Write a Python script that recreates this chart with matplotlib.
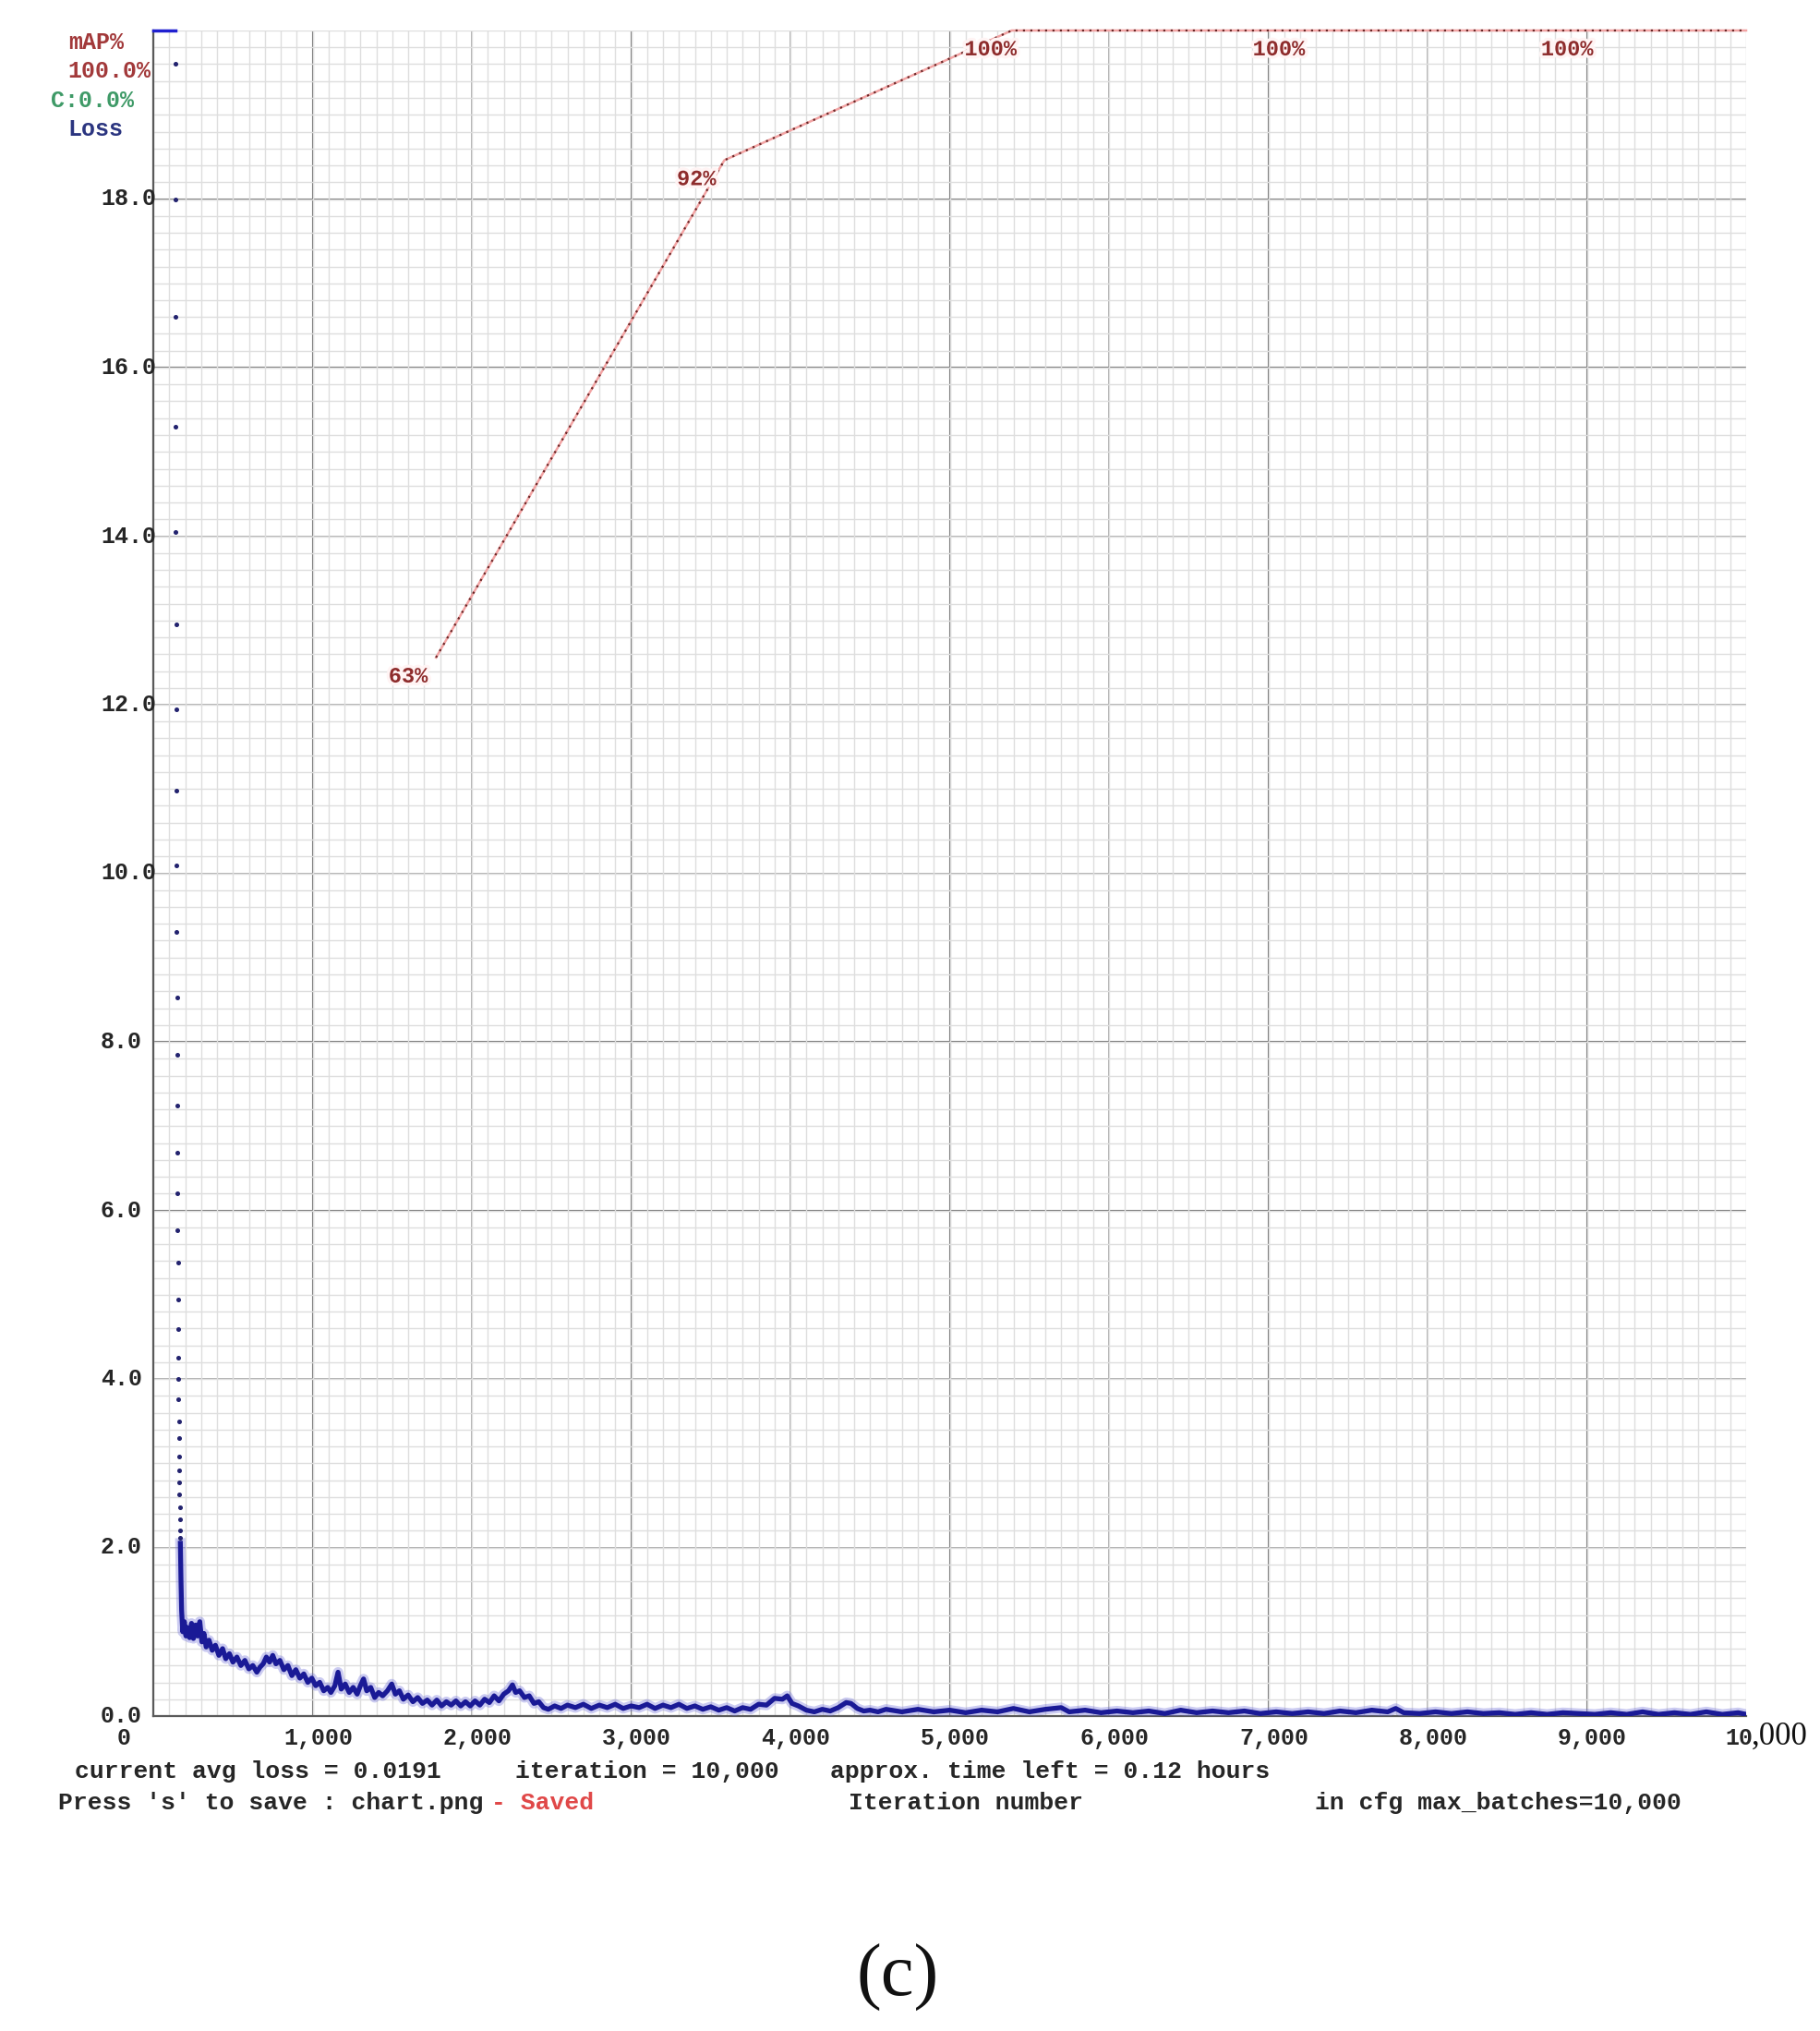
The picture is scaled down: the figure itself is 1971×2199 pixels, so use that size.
import matplotlib
matplotlib.use("Agg")
import matplotlib.pyplot as plt
import matplotlib.patheffects as pe
import matplotlib.transforms as mtrans
import numpy as np

W, H = 1971, 2199

# loss above the chart top at the start (drawn on the top edge)
top_iter = [0, 138]
top_loss = [20.0, 20.0]

# very fast drop right after start, shows up as single dots
dot_iter = [138, 139, 140, 141, 142, 143, 144, 145, 146, 147, 148,
            149, 150, 151, 152, 153, 154, 155, 156, 157, 158, 159,
            160, 161, 162, 163, 164, 165, 166, 167, 168, 169, 170]
dot_loss = [19.6, 18.0, 16.6, 15.3, 14.05, 12.95, 11.94, 10.98, 10.09, 9.30, 8.53,
            7.85, 7.24, 6.69, 6.20, 5.76, 5.38, 4.94, 4.59, 4.25, 4.0, 3.76,
            3.5, 3.30, 3.08, 2.91, 2.77, 2.63, 2.48, 2.33, 2.2, 2.12, 2.02]

# avg loss curve
loss_iter = [170, 174, 178, 185, 195, 205, 215, 228, 240, 252, 265, 278, 292, 305,
             318, 332, 350, 370, 390, 412, 435, 455, 478, 500, 525, 550, 575, 600,
             625, 650, 670, 690, 710, 730, 750, 770, 795, 820, 845, 870, 895, 920,
             945, 970, 995, 1020, 1045, 1070, 1095, 1115, 1140, 1160, 1180, 1205,
             1230, 1255, 1280, 1300, 1320, 1340, 1365, 1390, 1415, 1440, 1470, 1497,
             1520, 1545, 1570, 1600, 1630, 1660, 1690, 1720, 1750, 1780, 1810, 1840,
             1870, 1900, 1930, 1960, 1990, 2020, 2050, 2080, 2110, 2140, 2170, 2200,
             2230, 2255, 2275, 2300, 2330, 2360, 2390, 2420, 2450, 2480, 2520, 2560,
             2600, 2650, 2700, 2750, 2800, 2850, 2900, 2950, 3000, 3050, 3100, 3150,
             3200, 3250, 3300, 3350, 3400, 3450, 3500, 3550, 3600, 3650, 3700, 3750,
             3800, 3850, 3900, 3950, 3980, 4010, 4050, 4100, 4150, 4200, 4250, 4300,
             4350, 4380, 4420, 4460, 4500, 4550, 4600, 4700, 4800, 4900, 5000, 5100,
             5200, 5300, 5400, 5500, 5600, 5700, 5750, 5850, 5950, 6050, 6150, 6250,
             6350, 6450, 6550, 6650, 6750, 6850, 6950, 7050, 7150, 7250, 7350, 7450,
             7550, 7650, 7750, 7800, 7850, 7950, 8050, 8150, 8250, 8350, 8450, 8550,
             8650, 8750, 8850, 8950, 9050, 9150, 9250, 9350, 9450, 9550, 9650, 9750,
             9850, 9950, 10000]
loss_val = [2.05, 1.6, 1.25, 1.0, 1.12, 0.95, 1.05, 0.93, 1.1, 0.92, 1.08, 0.95, 1.12, 0.88,
            0.98, 0.82, 0.9, 0.78, 0.84, 0.72, 0.8, 0.68, 0.74, 0.64, 0.7, 0.6, 0.66, 0.56,
            0.6, 0.52, 0.58, 0.62, 0.7, 0.64, 0.72, 0.62, 0.66, 0.55, 0.6, 0.48, 0.55, 0.45,
            0.5, 0.4, 0.45, 0.36, 0.4, 0.3, 0.34, 0.28, 0.36, 0.52, 0.32, 0.38,
            0.28, 0.34, 0.26, 0.36, 0.44, 0.3, 0.34, 0.22, 0.28, 0.24, 0.3, 0.38,
            0.26, 0.3, 0.2, 0.25, 0.17, 0.22, 0.15, 0.19, 0.13, 0.19, 0.12, 0.17,
            0.13, 0.18, 0.12, 0.17, 0.12, 0.18, 0.13, 0.2, 0.16, 0.24, 0.18, 0.26,
            0.3, 0.37, 0.28, 0.3, 0.22, 0.24, 0.15, 0.17, 0.1, 0.08, 0.12, 0.09,
            0.13, 0.1, 0.14, 0.09, 0.13, 0.1, 0.14, 0.09, 0.12, 0.1, 0.14, 0.09,
            0.13, 0.1, 0.14, 0.09, 0.12, 0.08, 0.11, 0.07, 0.1, 0.06, 0.1, 0.08,
            0.14, 0.13, 0.21, 0.2, 0.24, 0.15, 0.12, 0.07, 0.05, 0.08, 0.06, 0.1,
            0.16, 0.15, 0.09, 0.06, 0.07, 0.05, 0.08, 0.05, 0.08, 0.05, 0.07, 0.04,
            0.07, 0.05, 0.09, 0.05, 0.08, 0.1, 0.05, 0.07, 0.04, 0.06, 0.04, 0.06,
            0.03, 0.07, 0.04, 0.06, 0.04, 0.06, 0.03, 0.05, 0.03, 0.05, 0.03, 0.06,
            0.04, 0.07, 0.05, 0.09, 0.04, 0.03, 0.05, 0.03, 0.05, 0.03, 0.04, 0.02,
            0.04, 0.02, 0.04, 0.03, 0.02, 0.04, 0.02, 0.05, 0.02, 0.04, 0.02, 0.05,
            0.02, 0.04, 0.02]

# mAP (%) checkpoints
map_iter = [1775, 3585, 5390, 7200, 9010, 10000]
map_val = [62.8, 92.3, 100.0, 100.0, 100.0, 100.0]
map_text = ["63%", "92%", "100%", "100%", "100%", ""]

y_ticks = [0, 2, 4, 6, 8, 10, 12, 14, 16, 18]
y_tick_labels = ["0.0", "2.0", "4.0", "6.0", "8.0", "10.0", "12.0", "14.0", "16.0", "18.0"]
x_ticks = [1000, 2000, 3000, 4000, 5000, 6000, 7000, 8000, 9000]
x_tick_labels = ["1,000", "2,000", "3,000", "4,000", "5,000", "6,000", "7,000", "8,000", "9,000"]

x_dark = [1000, 3000, 5000, 7000, 9000]
x_mid = [2000, 4000, 6000, 8000]
y_dark = [6, 8, 16, 18]
y_mid = [2, 4, 10, 12, 14]

FONT = "Liberation Mono"
TXT = "#262626"

fig = plt.figure(figsize=(W / 100, H / 100), dpi=100)
fig.patch.set_facecolor("white")

def px(x, y):
    return x / W, 1 - y / H

left, right, top, bottom = 166, 1891, 33, 1858
ax = fig.add_axes([left / W, 1 - bottom / H, (right - left) / W, (bottom - top) / H])
ax.set_xlim(0, 10000)
ax.set_ylim(0, 20)

# grid
ax.set_xticks(np.arange(0, 10001, 100), minor=True)
ax.set_yticks(np.arange(0, 20.01, 0.2), minor=True)
ax.set_xticks([])
ax.set_yticks([])
ax.grid(which="minor", color="#dedede", lw=1.0)
ax.tick_params(which="both", length=0, labelbottom=False, labelleft=False)
for xv in x_mid:
    ax.axvline(xv, color="#a6a6a6", lw=1.3, zorder=1)
for xv in x_dark:
    ax.axvline(xv, color="#6e6e6e", lw=1.5, zorder=1)
for yv in y_mid:
    ax.axhline(yv, color="#a6a6a6", lw=1.3, zorder=1)
for yv in y_dark:
    ax.axhline(yv, color="#6e6e6e", lw=1.5, zorder=1)

for s in ["top", "right"]:
    ax.spines[s].set_visible(False)
ax.spines["left"].set_color("#5a5a5a")
ax.spines["left"].set_linewidth(1.6)
ax.spines["bottom"].set_color("#5a5a5a")
ax.spines["bottom"].set_linewidth(1.6)

# loss
ax.plot(top_iter, top_loss, color="#2020d0", lw=2.5, clip_on=False, zorder=4)
ax.plot(dot_iter, dot_loss, ls="none", marker="o", ms=2.6, color="#22226e", zorder=4)
ax.plot(loss_iter, loss_val, color="#6b6bd8", lw=8, alpha=0.35, zorder=3)
ax.plot(loss_iter, loss_val, color="#1a1a96", lw=3.8, zorder=4)

# mAP
ax2 = ax.twinx()
ax2.set_ylim(0, 100)
ax2.axis("off")
ax2.plot(map_iter, map_val, color="#f2a4a4", lw=1.8, clip_on=False, zorder=5)
ax2.plot(map_iter, map_val, color="#6a2626", lw=1.6, ls=(0, (1, 2.6)), clip_on=False, zorder=5)
for it, v, t in zip(map_iter, map_val, map_text):
    if t:
        ax2.annotate(t, (it, v), xytext=(-37, -19.4), textcoords="offset points",
                     ha="left", va="baseline", fontsize=17, family=FONT, weight="bold",
                     color="#8e2c2c", zorder=6,
                     path_effects=[pe.withStroke(linewidth=5, foreground="#fff4f4")])

# y tick labels (left aligned like the darknet chart)
ytr = mtrans.blended_transform_factory(fig.transFigure, ax.transData)
for yv, lb in zip(y_ticks, y_tick_labels):
    ax.text(109 / W, yv, lb, transform=ytr, ha="left", va="center", fontsize=18,
            family=FONT, weight="bold", color=TXT)

# x tick labels
xtr = mtrans.blended_transform_factory(ax.transData, fig.transFigure)
ty = 1 - 1882 / H
for xv, lb in zip(x_ticks, x_tick_labels):
    ax.text(xv + 35, ty, lb, transform=xtr, ha="center", va="center", fontsize=18,
            family=FONT, weight="bold", color=TXT)
fig.text(*px(134, 1882), "0", ha="center", va="center", fontsize=18,
         family=FONT, weight="bold", color=TXT)
fig.text(*px(1898, 1882), "10", ha="right", va="center", fontsize=18,
         family=FONT, weight="bold", color=TXT)
fig.text(*px(1897, 1880), ",000", ha="left", va="center", fontsize=25,
         family="Liberation Serif", color="#111111")

# legend block top-left
fig.text(*px(74, 46), "mAP%", ha="left", va="center", fontsize=18, family=FONT,
         weight="bold", color="#a2393a")
fig.text(*px(73, 77), "100.0%", ha="left", va="center", fontsize=18, family=FONT,
         weight="bold", color="#a2393a")
fig.text(*px(55, 109), "C:0.0%", ha="left", va="center", fontsize=18, family=FONT,
         weight="bold", color="#3f9a67")
fig.text(*px(73, 140), "Loss", ha="left", va="center", fontsize=18, family=FONT,
         weight="bold", color="#2b3580")

# bottom status lines
bt = dict(ha="left", va="center", fontsize=19, family=FONT, weight="bold", color=TXT)
fig.text(*px(81, 1918), "current avg loss = 0.0191", **bt)
fig.text(*px(558, 1918), "iteration = 10,000", **bt)
fig.text(*px(899, 1918), "approx. time left = 0.12 hours", **bt)
fig.text(*px(63, 1952), "Press 's' to save : chart.png", **bt)
fig.text(*px(532, 1952), "- Saved", ha="left", va="center", fontsize=19, family=FONT,
         weight="bold", color="#e04848")
fig.text(*px(919, 1952), "Iteration number", **bt)
fig.text(*px(1424, 1952), "in cfg max_batches=10,000", **bt)

# caption
fig.text(*px(972, 2141), "(c)", ha="center", va="center", fontsize=58,
         family="Liberation Serif", color="#111111")

fig.savefig("out.png", dpi=100, facecolor="white")
